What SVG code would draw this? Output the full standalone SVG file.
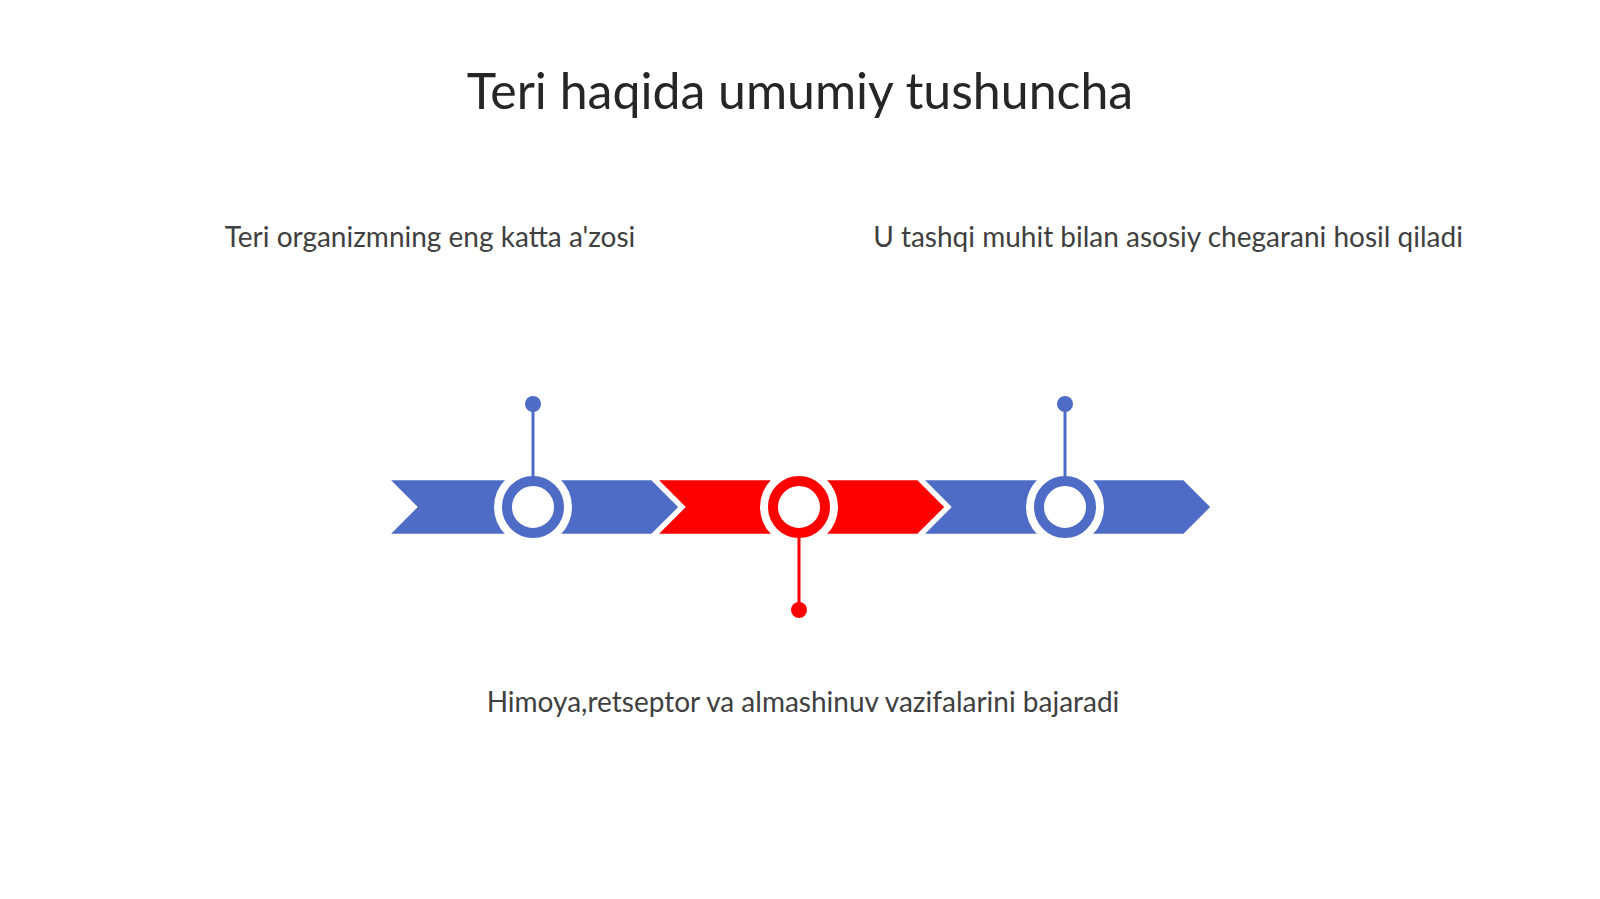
<svg xmlns="http://www.w3.org/2000/svg" width="1600" height="899" viewBox="0 0 1600 899">
<style>
.t{font-family:Lato,"Liberation Sans",sans-serif;fill:#404040;text-anchor:middle}
.title{font-size:50px;fill:#262626}
.lbl{font-size:28px}
.blue{fill:#4E6CC5}
.red{fill:#FF0000}
.chev{stroke:#fff;stroke-width:2.5;stroke-linejoin:miter}
.halo{fill:#fff}
.ring{fill:#fff;stroke-width:10}
.pin{stroke-width:3}
</style>
<rect width="1600" height="899" fill="#fff"/>
<text class="t title" x="800" y="109">Teri haqida umumiy tushuncha</text>
<g id="chevrons">
<polygon id="chev1" class="chev blue" points="388,479 652,479 680,507 652,535 388,535 416,507"/>
<polygon id="chev2" class="chev red" points="656,479 918,479 946,507 918,535 656,535 684,507"/>
<polygon id="chev3" class="chev blue" points="922,479 1184,479 1212,507 1184,535 922,535 950,507"/>
</g>
<g id="node1">
<circle cx="533" cy="404" r="8" class="blue"/>
<circle cx="533" cy="507" r="39" class="halo"/>
<circle cx="533" cy="507" r="26" class="ring" stroke="#4E6CC5"/>
<text class="t lbl" x="430" y="247">Teri organizmning eng katta a'zosi</text>
</g>
<g id="node2">
<circle cx="799" cy="610" r="8" class="red"/>
<circle cx="799" cy="507" r="39" class="halo"/>
<circle cx="799" cy="507" r="26" class="ring" stroke="#FF0000"/>
<text class="t lbl" x="803" y="712">Himoya,retseptor va almashinuv vazifalarini bajaradi</text>
</g>
<g id="node3">
<circle cx="1065" cy="404" r="8" class="blue"/>
<circle cx="1065" cy="507" r="39" class="halo"/>
<circle cx="1065" cy="507" r="26" class="ring" stroke="#4E6CC5"/>
<text class="t lbl" x="1168" y="247">U tashqi muhit bilan asosiy chegarani hosil qiladi</text>
</g>
<g id="connectors">
<line x1="533" y1="404" x2="533" y2="477" stroke="#4E6CC5" class="pin"/>
<line x1="799" y1="537" x2="799" y2="610" stroke="#FF0000" class="pin"/>
<line x1="1065" y1="404" x2="1065" y2="477" stroke="#4E6CC5" class="pin"/>
</g>
</svg>
